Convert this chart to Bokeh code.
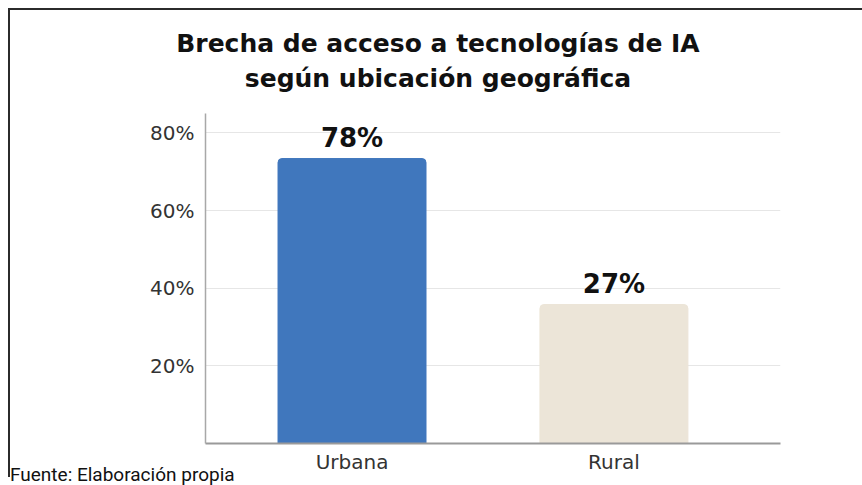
from bokeh.plotting import figure
from bokeh.models import Range1d, FixedTicker, PrintfTickFormatter, Div, ColumnDataSource
from bokeh.layouts import column
from bokeh.core.properties import value
from bokeh.embed import file_html
from bokeh.resources import INLINE

# ---- data ----
categories = ["Urbana", "Rural"]
bar_heights = [73.4, 35.8]          # bar tops as drawn (percent)
value_labels = ["78%", "27%"]       # labels printed above the bars
bar_colors = ["#4077BD", "#ECE5D8"]
y_ticks = [20, 40, 60, 80]
title_lines = ["Brecha de acceso a tecnologías de IA", "según ubicación geográfica"]
footer_text = "Fuente: Elaboración propia"

BORDER = "2px solid #2b2b2b"

title = Div(text="<br>".join(title_lines), width=854, margin=(8, 0, 0, 8),
            styles={"border-top": BORDER, "border-left": BORDER, "padding-top": "16px",
                    "padding-left": "4px", "text-align": "center",
                    "font-family": "DejaVu Sans", "font-weight": "bold",
                    "font-size": "25px", "line-height": "35px", "color": "#111111"})

xpos = [i + 0.5 for i in range(len(categories))]
src = ColumnDataSource(dict(x=xpos, top=bar_heights, color=bar_colors, label=value_labels))

p = figure(width=854, height=381, output_backend="svg", toolbar_location=None,
           x_range=Range1d(-0.0594, 2.136), y_range=Range1d(0, 85),
           min_border_left=195, min_border_right=84, min_border_top=17, min_border_bottom=34,
           margin=(0, 0, 0, 8))
p.styles = {"border-left": BORDER}
p.outline_line_color = None
p.background_fill_color = "white"
p.border_fill_color = "white"

p.vbar(x="x", top="top", width=0.565, bottom=0, color="color", source=src,
       border_radius=(4, 4, 0, 0))
p.text(x="x", y="top", text="label", source=src, text_align="center",
       text_baseline="bottom", y_offset=-6, text_font=value("DejaVu Sans"),
       text_font_style="bold", text_font_size="26px", text_color="#111111")

# axes
p.xaxis.ticker = FixedTicker(ticks=xpos)
p.xaxis.major_label_overrides = {x: c for x, c in zip(xpos, categories)}
p.xaxis.major_tick_line_color = None
p.xaxis.minor_tick_line_color = None
p.xaxis.axis_line_color = "#9a9a9a"
p.xaxis.axis_line_width = 2
p.xaxis.major_label_text_font = "DejaVu Sans"
p.xaxis.major_label_text_font_size = "20px"
p.xaxis.major_label_text_color = "#333333"
p.xaxis.major_label_standoff = 0

p.yaxis.ticker = FixedTicker(ticks=y_ticks)
p.yaxis.formatter = PrintfTickFormatter(format="%d%%")
p.yaxis.major_tick_line_color = None
p.yaxis.minor_tick_line_color = None
p.yaxis.axis_line_color = "#a8a8a8"
p.yaxis.axis_line_width = 1.5
p.yaxis.major_label_text_font = "DejaVu Sans"
p.yaxis.major_label_text_font_size = "20px"
p.yaxis.major_label_text_color = "#333333"
p.yaxis.major_label_standoff = 5

p.xgrid.grid_line_color = None
p.ygrid.grid_line_color = "#e6e6e6"
p.ygrid.grid_line_width = 1

footer = Div(text=footer_text, margin=(-12, 0, 0, 10),
             styles={"font-family": "Roboto", "font-size": "19px", "color": "#111111",
                     "line-height": "19px"})

layout = column(title, p, footer, spacing=0)
open("out.html", "w").write(file_html(layout, INLINE))
